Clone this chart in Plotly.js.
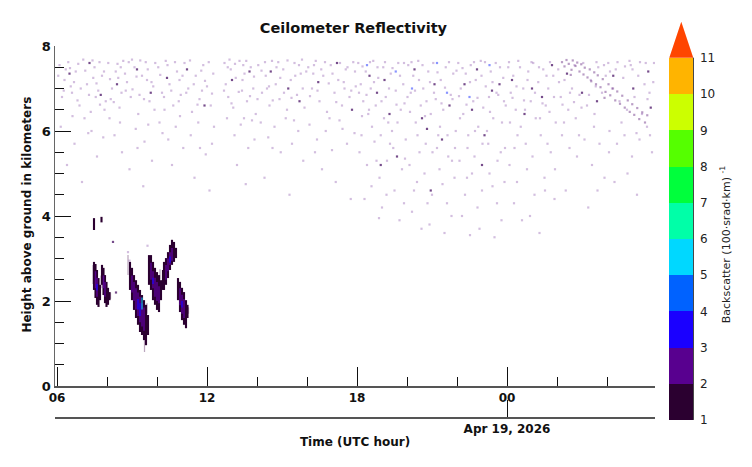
<!DOCTYPE html>
<html><head><meta charset="utf-8">
<script src="https://cdn.plot.ly/plotly-3.0.1.min.js"></script>
<style>html,body{margin:0;padding:0;background:#fff}#chart{width:752px;height:467px}</style>
</head><body><div id="chart"></div>
<script>
// ---- data (hours since 00 UTC Apr 18, 2026; heights in km) ----
const hourTickVals = [6, 12, 18, 24];
const hourTickText = ['06', '12', '18', '00'];
const hourMinorVals = [8, 10, 14, 16, 20, 22, 26, 28];
const dateTickVals = [24];
const dateTickText = ['Apr 19, 2026'];
const levelTicks = [1,2,3,4,5,6,7,8,9,10,11];
const levelColors = ['#2b0030','#58008f','#1a00ff','#0062ff','#00d8ff','#00ffa8','#00ff3c','#55ff00','#ccff00','#ffb400'];
const overflowColor = '#ff4500';

// cloud columns: [hour, base km, top km]
const cloudOuter = [
 [7.48,3.67,3.95],[7.78,3.85,3.98],
 [7.48,2.26,2.92],[7.54,2.07,2.87],[7.60,1.91,2.73],[7.66,1.86,2.54],[7.72,2.02,2.38],
 [7.80,2.38,2.85],[7.86,2.14,2.78],[7.92,1.95,2.61],[7.98,1.86,2.45],[8.04,1.91,2.31],[8.10,2.02,2.21],
 [8.92,2.26,2.92],[9.00,2.02,2.78],[9.08,1.79,2.61],[9.16,1.60,2.49],[9.24,1.44,2.38],[9.32,1.27,2.26],
 [9.40,1.20,2.14],[9.48,1.08,2.02],[9.56,0.96,1.91],[9.64,1.20,1.67],
 [9.68,2.38,3.08],[9.76,2.26,3.08],[9.84,2.02,2.92],[9.92,1.91,2.78],[10.00,1.79,2.68],[10.08,1.74,2.61],
 [10.16,2.02,2.49],[10.24,2.26,2.73],
 [10.28,2.26,2.92],[10.36,2.38,3.01],[10.44,2.54,3.15],[10.52,2.73,3.32],[10.60,2.85,3.44],[10.68,2.92,3.39],[10.76,3.01,3.25],
 [10.84,2.02,2.54],[10.92,1.74,2.45],[11.00,1.55,2.31],[11.08,1.44,2.21],[11.16,1.36,2.02],[11.22,1.60,1.91]
];
const cloudFaint = [[8.84,2.61,3.08],[9.50,0.80,1.08],[7.44,2.4,2.85],[7.76,2.3,2.6],[8.14,2.05,2.2],[9.60,1.7,1.95],[10.12,2.5,2.75],[11.26,1.7,1.85]];
const cloudMid = [
 [7.54,2.30,2.70],[7.60,2.10,2.55],[7.86,2.30,2.60],[7.92,2.10,2.45],
 [9.00,2.20,2.60],[9.08,2.00,2.45],[9.16,1.80,2.30],[9.24,1.65,2.20],[9.32,1.50,2.10],[9.40,1.40,1.95],[9.48,1.30,1.85],
 [9.76,2.50,2.90],[9.84,2.30,2.70],[9.92,2.10,2.55],[10.00,2.00,2.45],[10.08,1.95,2.35],
 [10.36,2.50,2.85],[10.44,2.70,3.00],[10.52,2.85,3.15],[10.60,2.95,3.25],
 [10.92,1.90,2.30],[11.00,1.70,2.15],[11.08,1.60,2.05]
];
const cloudBlue = [[7.60,2.25,2.40],[9.24,1.80,2.05],[9.32,1.65,1.95],[9.84,2.40,2.55],[10.52,2.90,3.05],[11.00,1.85,2.00]];
const cloudCyan = [[9.40,1.80,2.08]];

// sparse noise returns: [hour, km]
const noiseFaint = [
 [6.1,7.55],[6.3,7.2],[6.45,7.62],[6.6,6.9],[6.75,7.4],[6.9,6.6],[7.05,7.68],[7.2,7.1],[7.35,6.45],[7.5,7.5],[7.65,6.95],[7.8,7.3],[7.95,6.7],[6.2,6.8],[6.55,7.05],[6.85,7.58],[7.1,6.3],[7.45,7.25],[7.7,7.62],[7.9,6.5],[6.15,6.1],[6.7,5.7],[7.25,5.95],[7.6,5.4],[6.4,5.2],[7.85,5.85],[7.0,4.8],[6.95,7.0],[6.35,7.45],[7.55,6.8],
 [8.05,7.6],[8.2,7.0],[8.35,7.4],[8.5,6.55],[8.65,7.65],[8.8,7.15],[8.95,6.8],[9.1,7.5],[9.25,6.4],[9.4,7.3],[9.55,7.62],[9.7,6.7],[9.85,7.05],[8.1,6.3],[8.45,7.25],[8.75,6.95],[9.0,7.68],[9.3,6.85],[9.6,7.2],[9.9,6.5],[8.3,5.9],[8.6,5.5],[9.15,6.05],[9.5,5.75],[9.8,5.3],[8.9,5.1],[9.45,4.7],[8.15,6.75],[9.65,6.15],[8.55,7.5],
 [10.05,7.5],[10.2,6.9],[10.35,7.65],[10.5,7.1],[10.65,6.6],[10.8,7.4],[10.95,6.85],[11.1,7.6],[11.25,7.0],[11.4,6.45],[11.55,7.3],[11.7,6.75],[11.85,7.55],[12.0,7.05],[12.15,6.6],[12.25,7.35],[10.1,6.2],[10.45,5.8],[10.75,6.1],[11.05,5.6],[11.35,5.9],[11.65,6.2],[11.95,5.45],[12.2,5.7],[10.6,5.2],[11.5,4.9],[12.1,4.6],[10.3,6.5],[10.9,7.2],[11.8,6.95],[12.28,6.1],
 [12.7,7.6],[12.75,7.1],[12.85,6.8],[12.95,7.45],[13.05,6.55],[13.15,7.25],[13.3,7.65],[13.4,6.95],[13.5,7.35],[13.6,6.7],[13.75,7.5],[13.85,7.0],[13.95,6.4],[12.8,6.3],[13.1,5.9],[13.35,6.15],[13.65,5.6],[13.9,5.8],[13.2,5.2],[13.55,4.75],[12.9,7.68],[13.45,7.55],[13.8,6.25],
 [14.05,7.55],[14.2,6.9],[14.35,7.3],[14.5,6.6],[14.6,7.65],[14.75,7.1],[14.9,6.75],[15.05,7.45],[15.2,6.5],[15.35,7.2],[15.5,7.6],[15.6,6.85],[15.75,7.35],[15.9,6.55],[14.15,6.2],[14.45,5.85],[14.7,6.1],[14.95,5.5],[15.15,6.3],[15.4,5.7],[15.65,6.0],[15.85,5.3],[14.3,4.9],[15.3,4.5],[14.85,7.62],[15.8,7.68],[14.4,7.0],
 [16.05,7.5],[16.2,7.0],[16.35,7.65],[16.5,6.7],[16.65,7.3],[16.8,6.45],[16.95,7.55],[17.1,6.9],[17.25,7.2],[17.4,6.6],[17.55,7.45],[17.7,6.8],[17.85,7.62],[17.95,7.05],[16.1,6.15],[16.4,5.8],[16.75,6.0],[17.0,5.55],[17.3,6.25],[17.6,5.7],[17.9,5.95],[16.6,5.1],[17.15,4.8],[17.75,4.4],[16.25,7.35],[17.5,7.0],[16.9,6.3],
 [18.05,7.6],[18.15,7.1],[18.25,6.7],[18.35,7.4],[18.45,6.4],[18.55,7.0],[18.65,7.65],[18.75,6.6],[18.85,7.25],[18.95,5.9],[19.05,7.5],[19.15,6.8],[19.25,6.2],[19.35,7.35],[19.45,5.6],[19.55,6.95],[19.65,7.6],[19.75,6.5],[19.85,7.1],[19.95,5.8],[18.1,5.5],[18.4,5.2],[18.7,5.75],[18.9,4.9],[19.2,5.3],[19.5,4.6],[19.8,5.1],[18.3,4.4],[19.0,4.2],[19.7,3.9],[18.6,6.1],[19.4,6.0],[18.2,6.35],[19.9,6.65],
 [20.05,7.55],[20.15,6.9],[20.25,7.3],[20.35,6.2],[20.45,7.65],[20.55,6.6],[20.65,7.0],[20.75,5.7],[20.85,7.4],[20.95,6.4],[21.05,7.6],[21.15,6.75],[21.25,5.9],[21.35,7.2],[21.45,6.5],[21.55,7.5],[21.65,5.4],[21.75,6.85],[21.85,7.35],[21.95,6.0],[20.1,5.2],[20.4,4.8],[20.7,5.0],[21.0,4.5],[21.3,5.1],[21.6,4.3],[21.9,4.9],[20.2,4.1],[20.9,3.8],[21.5,3.6],[20.5,5.5],[21.2,5.6],[21.8,5.3],
 [22.05,7.6],[22.15,7.0],[22.25,6.4],[22.35,7.35],[22.45,5.9],[22.55,7.55],[22.65,6.7],[22.75,7.2],[22.85,6.1],[22.95,7.65],[23.05,6.55],[23.15,7.05],[23.25,5.7],[23.35,7.4],[23.45,6.3],[23.55,7.6],[23.65,6.85],[23.75,5.5],[23.85,7.25],[23.95,6.6],[22.1,5.3],[22.4,4.9],[22.7,5.4],[23.0,4.6],[23.3,5.0],[23.6,4.3],[23.9,4.8],[22.2,4.0],[22.9,3.7],[23.5,3.5],[22.6,5.0],[23.2,6.0],[23.8,6.2],
 [24.05,7.5],[24.15,6.9],[24.25,7.3],[24.35,6.5],[24.45,7.65],[24.55,6.1],[24.65,7.0],[24.75,5.7],[24.85,7.4],[24.95,6.7],[25.05,7.6],[25.15,6.3],[25.25,7.15],[25.35,5.9],[25.45,7.45],[25.55,6.6],[25.65,7.0],[25.75,5.5],[25.85,7.3],[25.95,6.2],[24.1,5.2],[24.4,4.8],[24.8,5.1],[25.1,4.5],[25.5,4.9],[25.9,4.4],[24.6,3.9],[25.3,3.6],[24.3,5.6],[25.7,6.45],
 [26.05,7.45],[26.15,6.8],[26.3,7.2],[26.45,6.5],[26.6,7.0],[26.75,6.3],[26.9,6.85],[27.05,7.6],[27.2,6.6],[27.35,7.2],[27.5,6.4],[27.65,7.5],[27.8,6.9],[27.95,7.3],[26.2,5.9],[26.5,5.6],[26.8,5.4],[27.1,5.8],[27.4,5.2],[27.7,5.7],[27.9,4.9],[26.35,4.6],[27.25,4.2],[26.7,7.55],[27.55,7.05],
 [28.05,7.6],[28.2,7.0],[28.35,7.45],[28.5,6.7],[28.65,7.25],[28.8,6.5],[28.95,7.55],[29.1,6.8],[29.25,7.3],[29.4,6.4],[29.55,7.6],[29.7,6.9],[29.85,7.15],[28.1,6.0],[28.4,5.7],[28.7,5.9],[29.0,5.4],[29.3,5.8],[29.6,6.1],[29.8,5.5],[28.3,4.8],[29.2,4.5],[28.9,7.65],[29.5,7.1],
 [8.84,3.15],[8.9,2.95],[9.62,3.3]
];
const noiseFaintUpper = [
 [6.05,7.3],[6.27,6.95],[6.52,7.48],[6.68,7.15],[6.82,6.72],[7.13,7.42],[7.28,6.85],[7.42,7.66],[7.58,7.12],[7.72,6.62],[7.88,7.4],
 [8.12,7.22],[8.27,6.68],[8.42,7.58],[8.58,6.9],[8.72,7.35],[8.87,7.62],[9.02,6.98],[9.18,7.28],[9.33,7.66],[9.48,6.75],[9.63,7.45],[9.78,7.15],[9.93,7.6],
 [10.13,7.32],[10.28,6.8],[10.42,7.55],[10.57,6.95],[10.72,7.62],[10.87,6.7],[11.02,7.3],[11.17,6.9],[11.32,7.66],[11.47,7.1],[11.62,6.62],[11.77,7.42],[11.92,7.18],[12.07,7.62],[12.2,6.88],
 [12.68,6.95],[12.83,7.5],[12.98,6.65],[13.12,7.58],[13.27,6.92],[13.42,7.2],[13.57,7.65],[13.72,6.82],[13.88,7.28],
 [14.02,6.75],[14.18,7.42],[14.32,7.62],[14.48,7.05],[14.63,6.72],[14.78,7.5],[14.93,7.25],[15.08,6.9],[15.22,7.66],[15.38,6.78],[15.53,7.3],[15.68,7.55],[15.83,7.0],[15.97,7.4],
 [16.12,6.82],[16.28,7.55],[16.42,6.95],[16.57,7.45],[16.72,7.62],[16.87,7.12],[17.02,7.35],[17.17,6.68],[17.32,7.6],[17.47,7.15],[17.62,7.5],[17.77,6.95],[17.92,7.4],
 [18.08,6.9],[18.22,7.52],[18.38,6.85],[18.52,7.62],[18.68,7.15],[18.82,7.5],[18.98,6.7],[19.12,7.62],[19.28,7.0],[19.42,7.48],[19.58,6.62],[19.72,7.3],[19.88,7.6],
 [20.02,6.8],[20.18,7.62],[20.32,6.95],[20.48,7.2],[20.62,7.55],[20.78,6.7],[20.92,7.15],[21.08,6.9],[21.22,7.38],[21.38,6.65],[21.52,7.02],[21.68,7.62],[21.82,6.75],[21.98,7.42],
 [22.08,6.82],[22.22,7.48],[22.38,6.62],[22.52,7.15],[22.68,7.62],[22.82,6.78],[22.98,7.3],[23.12,7.62],[23.28,6.8],[23.42,7.15],[23.58,6.9],[23.72,7.5],[23.88,6.7],
 [24.08,7.62],[24.22,6.78],[24.38,7.05],[24.52,7.5],[24.68,6.72],[24.82,7.2],[24.98,7.62],[25.12,6.9],[25.28,7.5],[25.42,6.65],[25.58,7.3],[25.72,7.62],[25.88,6.8],
 [26.08,7.15],[26.22,6.62],[26.52,6.9],[26.68,6.68],[26.98,6.55],[27.28,6.85],[27.58,7.62],[27.88,7.55],[28.12,7.4],[28.42,7.62],[28.72,7.52],[29.02,7.45],[29.32,7.62],[29.62,6.75],[29.88,7.6]
];
const noiseFaintLower = [
 [6.62,6.35],[7.38,6.0],[8.52,6.2],[9.22,5.6],[10.22,5.95],[10.92,6.35],[11.72,5.6],[13.48,6.3],[14.62,5.6],[15.48,6.25],[16.32,5.5],[17.42,6.05],
 [18.18,5.9],[18.48,6.5],[18.78,5.3],[19.08,6.3],[19.32,5.7],[19.62,6.2],[19.92,5.35],[18.58,4.7],[19.18,4.5],[19.88,4.3],[18.88,3.95],
 [20.12,6.45],[20.42,5.9],[20.72,6.35],[21.02,5.5],[21.32,6.1],[21.62,5.9],[21.92,5.6],[20.28,4.6],[20.82,4.3],[21.42,4.75],[21.78,4.0],[20.58,3.7],
 [22.12,6.3],[22.42,5.6],[22.72,6.0],[23.02,5.7],[23.32,6.45],[23.62,5.3],[23.92,5.6],[22.32,4.5],[22.82,4.2],[23.42,4.7],[23.78,3.9],[22.52,3.55],
 [24.12,6.2],[24.42,5.9],[24.72,6.5],[25.02,5.4],[25.32,6.3],[25.62,5.7],[25.92,5.1],[24.28,4.3],[24.92,4.0],[25.52,4.6],
 [26.28,6.2],[26.88,5.9],[27.48,6.1],[28.08,5.5],[28.58,6.2],[29.18,5.95],[29.72,5.9],[28.82,5.0],[27.62,4.6]
];
const noiseDark = [
 [6.5,7.35],[7.3,7.6],[7.75,6.85],[8.4,7.1],[9.2,7.45],[9.75,6.9],[10.4,7.25],[11.2,7.45],[11.9,6.6],[13.0,7.2],[13.7,7.4],
 [14.55,7.4],[15.25,7.0],[15.7,6.7],[16.45,7.15],[17.2,7.6],[17.8,6.5],
 [18.5,7.3],[18.8,6.9],[19.1,7.2],[19.3,6.4],[19.6,5.4],[18.95,5.2],
 [20.3,7.45],[20.6,6.3],[20.8,6.05],[21.1,7.1],[21.4,5.8],[21.7,6.6],[20.95,4.6],
 [22.3,7.1],[22.6,6.5],[22.8,7.45],[23.1,5.9],[23.4,6.95],[23.7,7.1],[23.0,5.2],
 [24.2,7.2],[24.7,6.4],[25.0,7.0],[25.4,6.8],[25.8,7.55],[26.4,7.35],[27.0,6.9],[27.6,6.7],
 [28.25,7.3],[29.05,7.0],[29.65,7.4],[29.75,6.55],[8.24,3.39],[8.36,2.2]
];
const noiseBlue = [[18.4,7.55],[19.55,7.4],[20.2,7.0],[21.2,7.6],[21.6,6.9],[22.5,6.8],[23.3,7.55]];
const streakReturns = [
 [26.2,7.62],[26.3,7.52],[26.38,7.67],[26.47,7.58],[26.58,7.44],[26.63,7.66],[26.74,7.53],[26.81,7.61],[26.9,7.4],[26.97,7.57],
 [27.06,7.33],[27.11,7.49],[27.22,7.26],[27.31,7.45],[27.37,7.17],[27.49,7.38],[27.56,7.1],[27.63,7.31],[27.74,7.03],[27.83,7.22],
 [27.94,6.92],[28.06,7.1],[28.13,6.84],[28.24,7.0],[28.33,6.72],[28.41,6.93],[28.52,6.64],[28.61,6.83],[28.71,6.55],[28.83,6.72],
 [28.91,6.45],[29.01,6.63],[29.09,6.38],[29.21,6.54],[29.29,6.28],[29.41,6.44],[29.52,6.2],[29.61,6.37],[26.55,7.32],[27.9,6.78]
];

// ---- build traces ----
const F = 'DejaVu Sans';
function barTrace(cols, color, w) {
  return {type:'bar', x: cols.map(c=>c[0]), base: cols.map(c=>c[1]), y: cols.map(c=>c[2]-c[1]),
    width: w, marker:{color: color, line:{width:0}}, hoverinfo:'skip', showlegend:false};
}
function dotTrace(pts, color, size) {
  return {type:'scatter', mode:'markers', x: pts.map(p=>p[0]), y: pts.map(p=>p[1]),
    marker:{symbol:'square', size:size, color:color, line:{width:0}}, hoverinfo:'skip', showlegend:false};
}
const cs = [];
levelColors.forEach((c,i)=>{ cs.push([i/levelColors.length, c]); cs.push([(i+1)/levelColors.length, c]); });

const traces = [
  dotTrace(noiseFaint, 'rgba(110,40,150,0.30)', 2.2),
  dotTrace(noiseFaintUpper, 'rgba(110,40,150,0.30)', 2.2),
  dotTrace(noiseFaintLower, 'rgba(110,40,150,0.30)', 2.2),
  dotTrace(streakReturns, 'rgba(80,10,110,0.4)', 2.2),
  dotTrace(noiseDark, 'rgba(60,0,90,0.7)', 2.2),
  dotTrace(noiseBlue, 'rgba(40,60,255,0.55)', 2.2),
  barTrace(cloudFaint, 'rgba(60,0,70,0.35)', 0.05),
  barTrace(cloudOuter, levelColors[0], 0.085),
  barTrace(cloudMid, levelColors[1], 0.06),
  barTrace(cloudBlue, levelColors[2], 0.05),
  barTrace(cloudCyan, levelColors[4], 0.04),
  {type:'scatter', mode:'markers', xaxis:'x2', x:[6], y:[-5], hoverinfo:'skip', showlegend:false,
   marker:{color:[1], cmin:1, cmax:11, colorscale:cs, opacity:0, showscale:true,
     colorbar:{x:1.0238, xanchor:'left', xpad:0, ypad:0, y:0.48, yanchor:'middle', len:362, lenmode:'pixels',
       thickness:24, thicknessmode:'pixels', outlinewidth:0, borderwidth:0,
       tickmode:'array', tickvals:levelTicks, ticks:'outside', ticklen:5, tickcolor:'rgba(0,0,0,0)',
       tickfont:{family:F, size:12, color:'#222'}}}}
];

const axisFont = {family:F, size:12, color:'#111', weight:'bold'};
const layout = {
  width:752, height:467, margin:{l:55, r:97, t:46, b:50}, paper_bgcolor:'#fff', plot_bgcolor:'#fff',
  barmode:'overlay', showlegend:false,
  title:{text:'Ceilometer Reflectivity', x:0.47, xanchor:'center', y:0.94, yanchor:'middle', font:{family:F, size:14.5, color:'#111', weight:'bold'}},
  xaxis:{range:[5.92,29.92], tickmode:'array', tickvals:hourTickVals, ticktext:hourTickText, ticks:'inside', ticklen:19, tickcolor:'#111',
    minor:{tickmode:'array', tickvals:hourMinorVals, ticks:'inside', ticklen:9, tickcolor:'#111'},
    showline:true, linecolor:'#555', linewidth:1.5, showgrid:false, zeroline:false, tickfont:axisFont, anchor:'y'},
  xaxis2:{overlaying:'x', anchor:'free', position:0, side:'bottom', range:[5.92,29.92], tickmode:'array', tickvals:dateTickVals, ticktext:dateTickText,
    ticks:'inside', ticklen:17, tickcolor:'#111', showline:true, linecolor:'#555', linewidth:1.5, showgrid:false, zeroline:false, tickfont:axisFont,
    title:{text:'Time (UTC hour)', font:axisFont, standoff:2}},
  yaxis:{domain:[31/371,1], range:[0,8], tickmode:'linear', tick0:0, dtick:2, ticks:'inside', ticklen:16, tickcolor:'#111',
    minor:{dtick:0.5, ticks:'inside', ticklen:9, tickcolor:'#111'},
    showline:true, linecolor:'#666', linewidth:1.5, showgrid:false, zeroline:false, tickfont:{family:F, size:13, color:'#111', weight:'bold'}},
  annotations:[
    {text:'Height above ground in kilometers', xref:'paper', yref:'paper', x:-0.047, y:0.545, xanchor:'center', yanchor:'middle',
     textangle:-90, showarrow:false, font:axisFont},
    {text:'Backscatter (100·srad·km) <sup>-1</sup>', xref:'paper', yref:'paper', x:1.118, y:0.465, xanchor:'center', yanchor:'middle',
     textangle:-90, showarrow:false, font:{family:F, size:11, color:'#222'}}
  ],
  shapes:[
    {type:'path', xref:'paper', yref:'paper', path:'M 1.0238 0.9685 L 1.0638 0.9685 L 1.0438 1.0655 Z', fillcolor:overflowColor, line:{width:0}},
    {type:'line', xref:'paper', yref:'paper', x0:1.0638, x1:1.0638, y0:-0.008, y1:0.9685, line:{color:'#111', width:1}}
  ]
};
Plotly.newPlot('chart', traces, layout, {displayModeBar:false, staticPlot:true});
</script></body></html>
